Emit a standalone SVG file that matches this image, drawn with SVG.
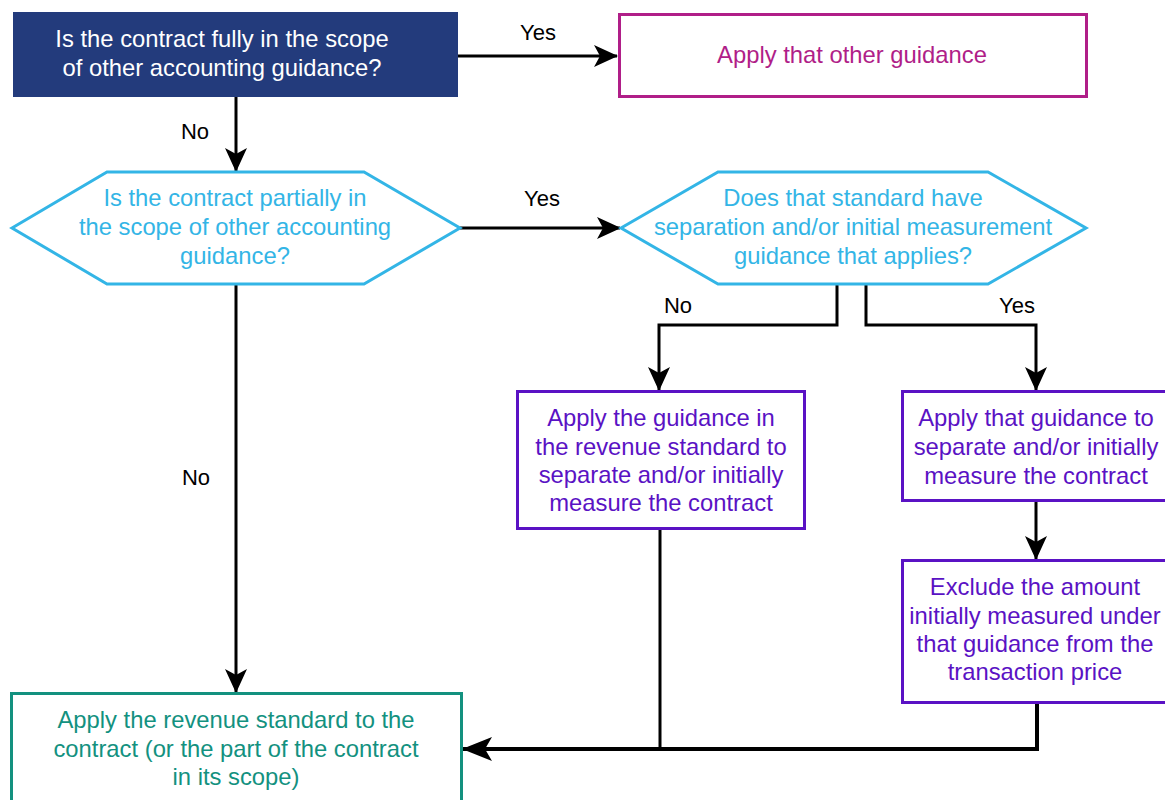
<svg xmlns="http://www.w3.org/2000/svg" width="1165" height="800" viewBox="0 0 1165 800">
<defs>
<style>
text{font-family:"Liberation Sans",Arial,sans-serif;font-size:23.8px;text-anchor:middle}
.lbl{font-size:22px;fill:#000}
.hex{fill:#fff;stroke:#33b5e6;stroke-width:3}
.hext{fill:#33b5e6}
.pur{fill:#fff;stroke:#5a12c4;stroke-width:3}
.purt{fill:#5a12c4}
.con{fill:none;stroke:#000;stroke-width:3}
</style>
<marker id="ah" markerUnits="userSpaceOnUse" markerWidth="24" markerHeight="22" viewBox="0 0 24 22" refX="23" refY="11" orient="auto">
<path d="M0,0 L24,11 L0,22 L6,11 Z" fill="#000"/>
</marker>
<marker id="ah2" markerUnits="userSpaceOnUse" markerWidth="30" markerHeight="24" viewBox="0 0 30 24" refX="29" refY="12" orient="auto">
<path d="M0,0 L30,12 L0,24 L7,12 Z" fill="#000"/>
</marker>
</defs>
<rect width="1165" height="800" fill="#fff"/>
<g id="connectors">
<line class="con" x1="236" y1="97" x2="236" y2="171" marker-end="url(#ah)"/>
<line class="con" x1="458" y1="56" x2="617" y2="56" marker-end="url(#ah)"/>
<line class="con" x1="460" y1="228" x2="620" y2="228" marker-end="url(#ah)"/>
<line class="con" x1="236" y1="284" x2="236" y2="692" marker-end="url(#ah)"/>
<polyline class="con" points="837,284 837,325 659,325 659,390" marker-end="url(#ah)"/>
<polyline class="con" points="866,284 866,325 1036,325 1036,390" marker-end="url(#ah)"/>
<line class="con" x1="1036" y1="501" x2="1036" y2="559" marker-end="url(#ah)"/>
<line class="con" x1="660" y1="529" x2="660" y2="749"/>
<polyline class="con" points="1037,703 1037,749 463,749" style="stroke-width:4" marker-end="url(#ah2)"/>
<text class="lbl" x="195" y="139">No</text>
<text class="lbl" x="538" y="40">Yes</text>
<text class="lbl" x="542" y="206">Yes</text>
<text class="lbl" x="196" y="485">No</text>
<text class="lbl" x="678" y="313">No</text>
<text class="lbl" x="1017" y="313">Yes</text>
</g>
<g id="n1">
<rect x="13" y="12" width="445" height="85" fill="#233b7c"/>
<text x="222" y="47" fill="#fff">Is the contract fully in the scope</text>
<text x="222" y="76" fill="#fff">of other accounting guidance?</text>
</g>
<g id="n2">
<rect x="619.5" y="14.5" width="467" height="82" fill="#fff" stroke="#b01e88" stroke-width="3"/>
<text x="852" y="63" fill="#b01e88">Apply that other guidance</text>
</g>
<g id="n3">
<polygon class="hex" points="12,228 107,172 364,172 460,228 364,284 107,284"/>
<text class="hext" x="235" y="206">Is the contract partially in</text>
<text class="hext" x="235" y="235">the scope of other accounting</text>
<text class="hext" x="235" y="264">guidance?</text>
</g>
<g id="n4">
<polygon class="hex" points="621,228 718,172 988,172 1086,228 988,284 718,284"/>
<text class="hext" x="853" y="206">Does that standard have</text>
<text class="hext" x="853" y="235">separation and/or initial measurement</text>
<text class="hext" x="853" y="264">guidance that applies?</text>
</g>
<g id="n5">
<rect class="pur" x="517.5" y="391.5" width="287" height="137"/>
<text class="purt" x="661" y="426">Apply the guidance in</text>
<text class="purt" x="661" y="455">the revenue standard to</text>
<text class="purt" x="661" y="483">separate and/or initially</text>
<text class="purt" x="661" y="511">measure the contract</text>
</g>
<g id="n6">
<rect class="pur" x="902.5" y="391.5" width="268" height="109"/>
<text class="purt" x="1036" y="426">Apply that guidance to</text>
<text class="purt" x="1036" y="455">separate and/or initially</text>
<text class="purt" x="1036" y="484">measure the contract</text>
</g>
<g id="n7">
<rect class="pur" x="902.5" y="560.5" width="268" height="142"/>
<text class="purt" x="1035" y="595">Exclude the amount</text>
<text class="purt" x="1035" y="624">initially measured under</text>
<text class="purt" x="1035" y="652">that guidance from the</text>
<text class="purt" x="1035" y="680">transaction price</text>
</g>
<g id="n8">
<rect x="11.5" y="693.5" width="450" height="130" fill="#fff" stroke="#13917f" stroke-width="3"/>
<text x="236" y="728" fill="#13917f">Apply the revenue standard to the</text>
<text x="236" y="757" fill="#13917f">contract (or the part of the contract</text>
<text x="236" y="785" fill="#13917f">in its scope)</text>
</g>
</svg>
